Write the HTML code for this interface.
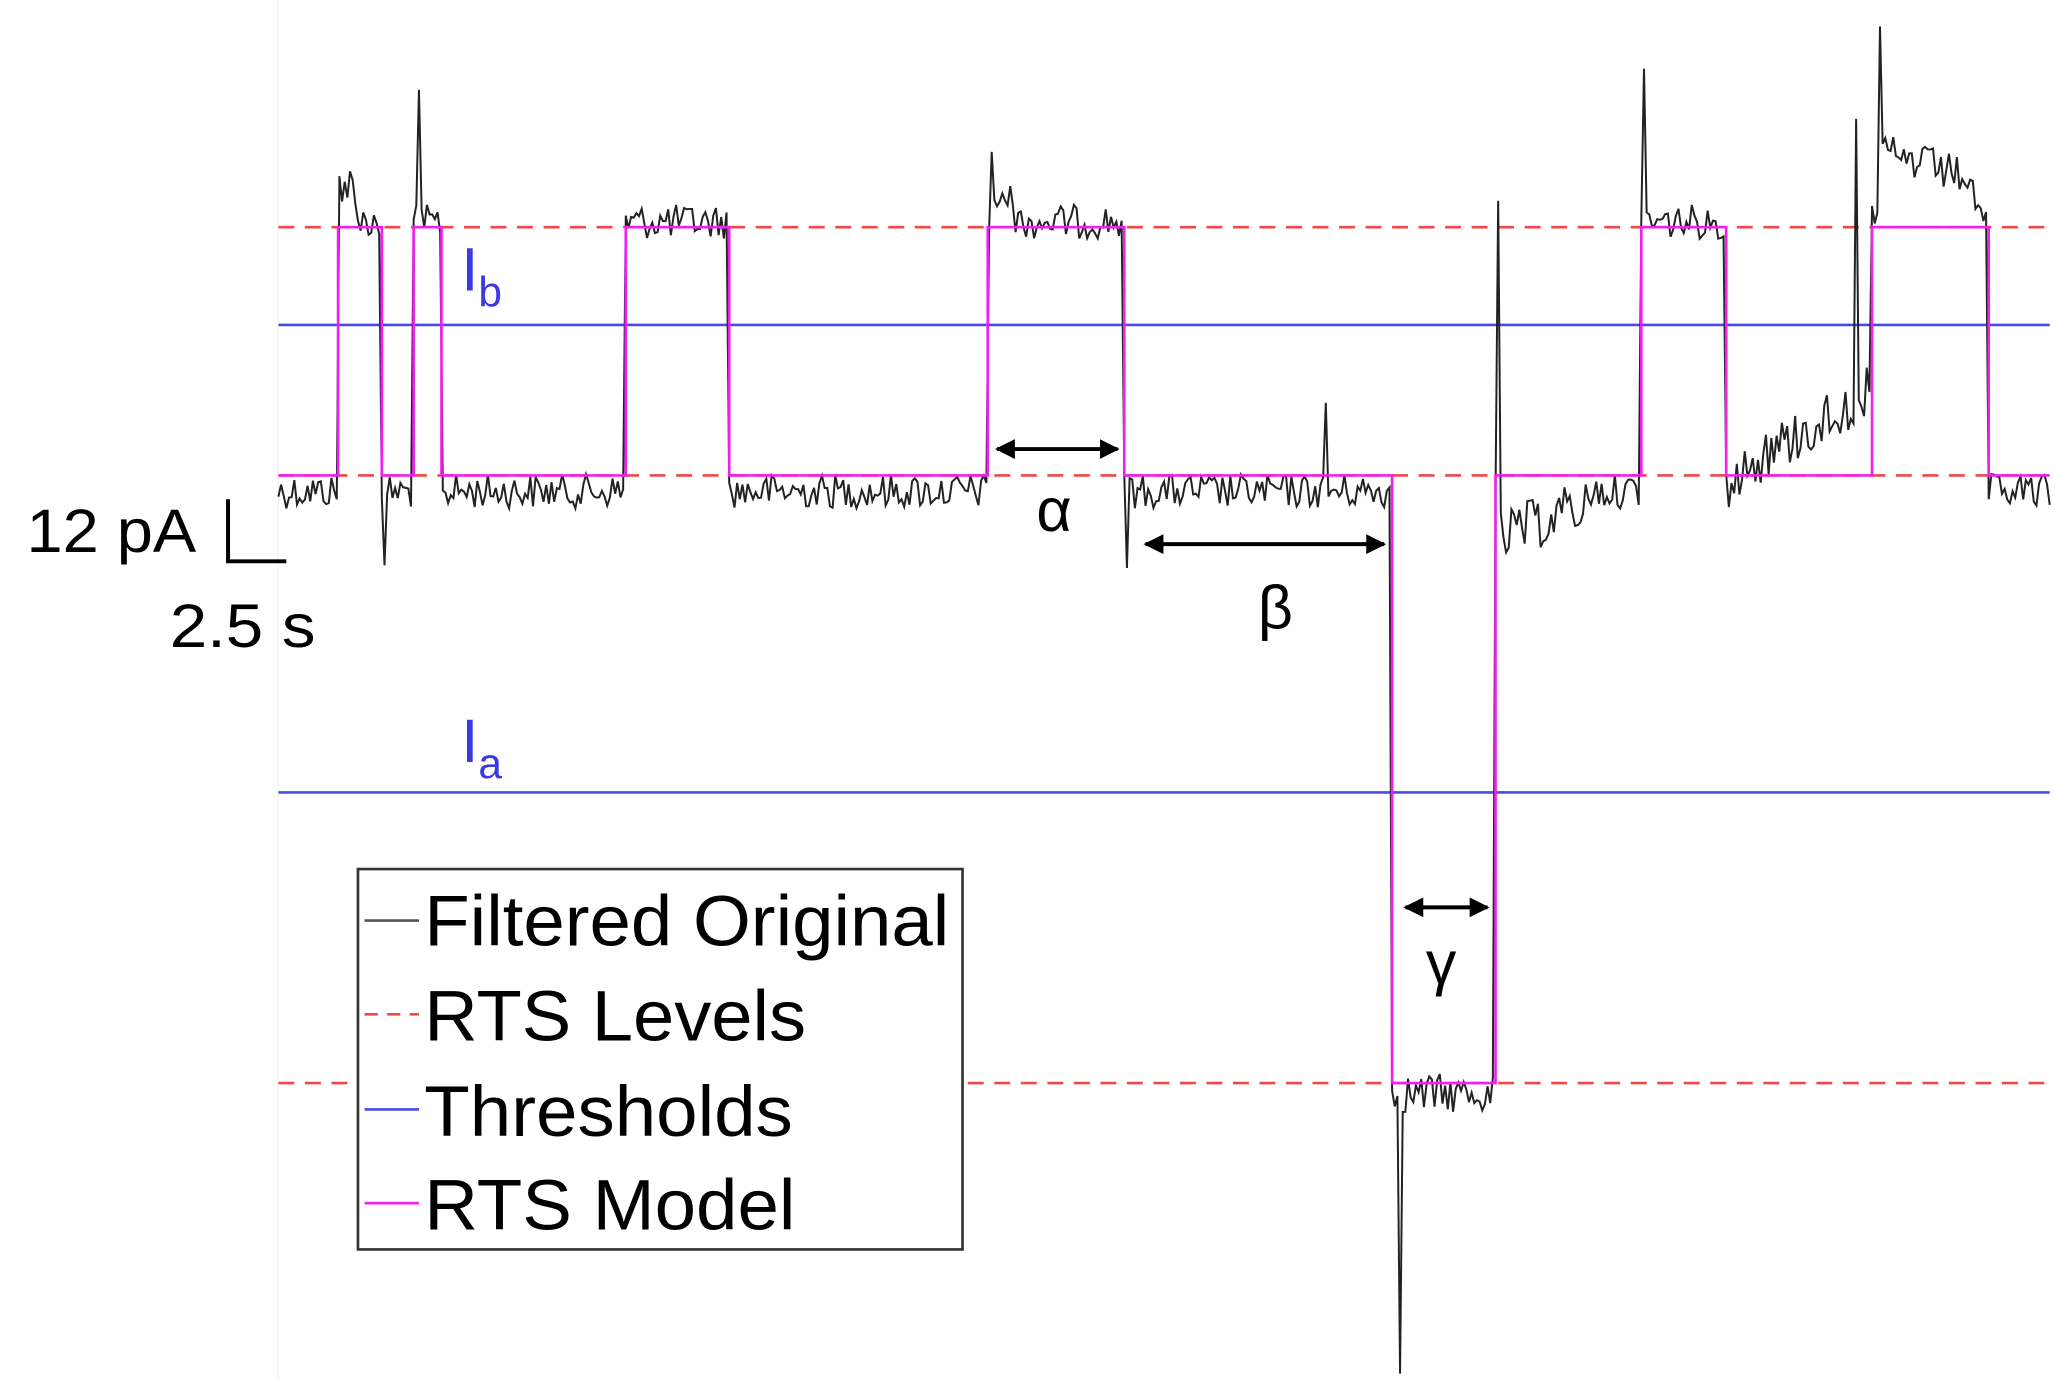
<!DOCTYPE html>
<html><head><meta charset="utf-8"><style>
html,body{margin:0;padding:0;background:#fff;}
svg{display:block;}
text{font-family:"Liberation Sans",sans-serif;}
</style></head><body>
<svg id="s" width="2055" height="1400" viewBox="0 0 1550 1060" preserveAspectRatio="none" xmlns="http://www.w3.org/2000/svg">
<defs>
<marker id="ah" viewBox="0 0 10 10" refX="9" refY="5" markerWidth="5" markerHeight="5" orient="auto-start-reverse"><path d="M0,0L10,5L0,10z" fill="#000"/></marker>
</defs>
<rect x="0" y="0" width="1550" height="1060" fill="#fff"/>
<line x1="210" y1="0" x2="210" y2="1045" stroke="#f2f2f2" stroke-width="1"/>
<line x1="210" y1="246" x2="1546" y2="246" stroke="#4a4ae8" stroke-width="2"/>
<line x1="210" y1="600" x2="1546" y2="600" stroke="#4a4ae8" stroke-width="2"/>
<g stroke="#f04848" stroke-width="2" stroke-dasharray="12,8">
<line x1="210" y1="172" x2="1546" y2="172"/>
<line x1="210" y1="360" x2="1546" y2="360"/>
<line x1="210" y1="820" x2="1546" y2="820"/>
</g>
<path id="trace" fill="none" stroke="#222" stroke-width="1.5" d=""/>
<path fill="none" stroke="#f020f0" stroke-width="2" d="M210,360H255V172H288V360H312V172H333V360H472V172H550V360H745V172H848V360H1050V820H1128V360H1238V172H1302V360H1412V172H1500V360H1546"/>
<g stroke="#000" stroke-width="3" marker-start="url(#ah)" marker-end="url(#ah)">
<line x1="752" y1="340" x2="843" y2="340"/>
<line x1="864" y1="412" x2="1044" y2="412"/>
<line x1="1060" y1="687" x2="1122" y2="687"/>
</g>
<text x="795" y="402" font-size="46" text-anchor="middle">α</text>
<text x="962" y="476" font-size="46" text-anchor="middle">β</text>
<text x="1087" y="745" font-size="46" text-anchor="middle">γ</text>
<text x="348" y="220" font-size="46" fill="#3a3ae0">I<tspan font-size="32" dy="12">b</tspan></text>
<text x="348" y="577" font-size="46" fill="#3a3ae0">I<tspan font-size="32" dy="12">a</tspan></text>
<text x="20" y="418" font-size="46" textLength="128" lengthAdjust="spacingAndGlyphs">12 pA</text>
<path d="M172,378V425H216" fill="none" stroke="#000" stroke-width="3"/>
<text x="128" y="490" font-size="46" textLength="110" lengthAdjust="spacingAndGlyphs">2.5 s</text>
<rect x="270" y="658" width="456" height="288" fill="#fff" stroke="#333" stroke-width="2"/>
<line x1="275" y1="697" x2="316" y2="697" stroke="#555" stroke-width="2"/>
<line x1="275" y1="768" x2="316" y2="768" stroke="#f04848" stroke-width="2" stroke-dasharray="10,7"/>
<line x1="275" y1="840" x2="316" y2="840" stroke="#4a4ae8" stroke-width="2"/>
<line x1="275" y1="911" x2="316" y2="911" stroke="#f020f0" stroke-width="2"/>
<g font-size="54">
<text x="320" y="716" textLength="396" lengthAdjust="spacingAndGlyphs">Filtered Original</text>
<text x="320" y="788" textLength="288" lengthAdjust="spacingAndGlyphs">RTS Levels</text>
<text x="320" y="860" textLength="278" lengthAdjust="spacingAndGlyphs">Thresholds</text>
<text x="320" y="931" textLength="280" lengthAdjust="spacingAndGlyphs">RTS Model</text>
</g>
</svg>
<script>
(function(){
var seed=12345;function r(){seed=(seed*1103515245+12345)%2147483648;return seed/2147483648;}
var tr=[[210,360],[255,172],[288,360],[312,172],[333,360],[472,172],[550,360],[745,172],[848,360],[1050,820],[1128,360],[1238,172],[1302,360],[1412,172],[1500,360]];
function lvl(x){var l=360;for(var i=0;i<tr.length;i++){if(x>=tr[i][0])l=tr[i][1];}return l;}
var spikes={257:90,316:68,475:100,748:115,1130:152,1240:52,1418:20,1400:90,290:428,337:468,553:462,850:430,1056:1040,1305:438,1503:472,1000:305};
var d="";
for(var x=210;x<=1546;x+=2){
 var L=lvl(x),y;
 if(L==360){y=372+(r()-0.5)*26;
   if(x>1130&&x<1200)y=380+(1200-x)*0.4+(r()-0.5)*40;
   if(x>1305&&x<1412)y=360-(x-1305)*0.6+(r()-0.5)*40;
 } else if(L==172){y=168+(r()-0.5)*26;
   if(x>1418&&x<1490)y=115+(x-1418)*0.3+(r()-0.5)*30;
   if(x>255&&x<270)y=140+(r()-0.5)*30;
   if(x>748&&x<765)y=150+(r()-0.5)*20;
 } else {y=828+(r()-0.5)*30;}
 if(spikes[x]!==undefined)y=spikes[x];
 d+=(d?"L":"M")+x+","+y.toFixed(1);
}
document.getElementById("trace").setAttribute("d",d);
})();
</script>
</body></html>
